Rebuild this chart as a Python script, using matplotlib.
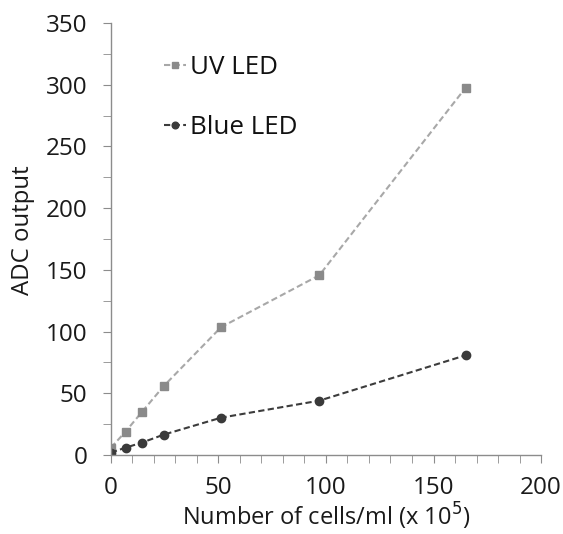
import matplotlib
matplotlib.use("Agg")
import matplotlib.pyplot as plt
from matplotlib.ticker import MultipleLocator

cells = [0, 6.8, 14.4, 24.6, 51.2, 96.9, 165]
uv_led = [5.9, 18.9, 34.8, 55.9, 103.5, 145.6, 297.7]
blue_led = [1.9, 5.9, 10.0, 16.5, 30.2, 44.0, 80.8]
x_ticks = [0, 50, 100, 150, 200]
y_ticks = [0, 50, 100, 150, 200, 250, 300, 350]

plt.rcParams['font.family'] = ['Open Sans', 'DejaVu Sans']

fig = plt.figure(figsize=(5.63, 5.34), dpi=100)
ax = fig.add_axes([0.197, 0.148, 0.764, 0.809])

ax.plot(cells, uv_led, linestyle=(0, (3, 1.6)), color='#a8a8a8', lw=1.5,
        marker='s', markersize=6.0, markerfacecolor='#8a8a8a', markeredgecolor='#8a8a8a',
        label='UV LED')
ax.plot(cells, blue_led, linestyle=(0, (3, 1.6)), color='#3c3c3c', lw=1.5,
        marker='o', markersize=6.0, markerfacecolor='#3a3a3a', markeredgecolor='#3a3a3a',
        label='Blue LED')

ax.set_xlim(0, 200)
ax.set_ylim(0, 350)
ax.set_xticks(x_ticks)
ax.set_yticks(y_ticks)
ax.xaxis.set_minor_locator(MultipleLocator(10))
ax.yaxis.set_minor_locator(MultipleLocator(25))

for s in ['top', 'right']:
    ax.spines[s].set_visible(False)
for s in ['left', 'bottom']:
    ax.spines[s].set_color('#8c8c8c')
    ax.spines[s].set_linewidth(1.0)

ax.tick_params(axis='both', which='both', colors='#8c8c8c', labelcolor='#1a1a1a')
ax.tick_params(axis='both', which='major', length=6, labelsize=17.5)
ax.tick_params(axis='y', which='major', pad=11)
ax.tick_params(axis='x', which='major', pad=9)
ax.tick_params(axis='both', which='minor', length=6)

ax.set_xlabel('Number of cells/ml (x 10$^5$)', fontsize=17, color='#1a1a1a', labelpad=1)
ax.set_ylabel('ADC output', fontsize=17.3, color='#1a1a1a', labelpad=8)
ax.yaxis.set_label_coords(-0.177, 0.52)

leg = ax.legend(loc='upper left', bbox_to_anchor=(0.07, 0.98), frameon=False,
                fontsize=18.7, handlelength=0.85, handletextpad=0.12, labelspacing=1.35,
                markerscale=0.8)
for t in leg.get_texts():
    t.set_color('#111111')

fig.savefig('out.png', dpi=100)
